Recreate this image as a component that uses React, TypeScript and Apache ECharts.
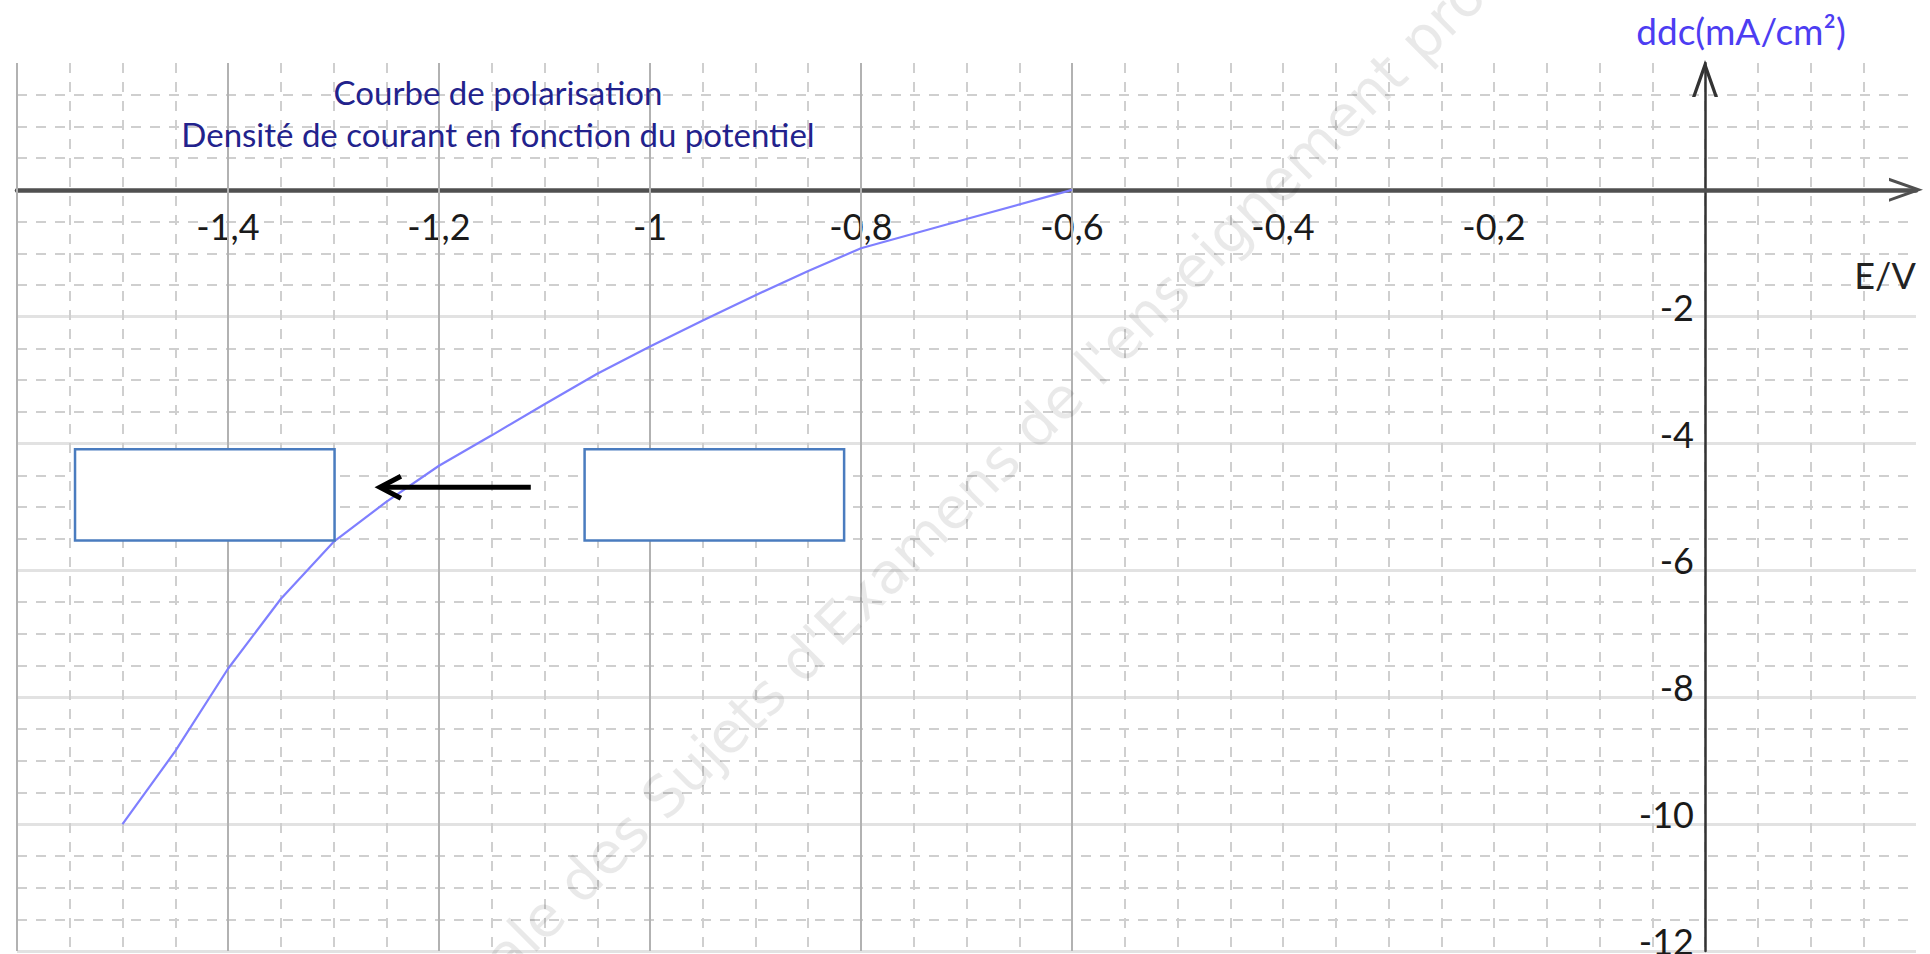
import React, { useEffect, useRef } from 'react';
import * as echarts from 'echarts';

// ---- data ----
const potentials = [-1.5, -1.45, -1.4, -1.35, -1.3, -1.25, -1.2, -1.15, -1.1, -1.05, -1.0, -0.95, -0.9, -0.85, -0.8, -0.7, -0.6];
const currentDensity = [-10, -8.85, -7.55, -6.45, -5.55, -4.92, -4.35, -3.87, -3.38, -2.9, -2.47, -2.06, -1.66, -1.28, -0.92, -0.46, 0];

const xTickValues = [-1.4, -1.2, -1, -0.8, -0.6, -0.4, -0.2];
const xTickLabels = ['-1,4', '-1,2', '-1', '-0,8', '-0,6', '-0,4', '-0,2'];
const yTickValues = [-2, -4, -6, -8, -10, -12];
const yTickLabels = ['-2', '-4', '-6', '-8', '-10', '-12'];
const solidGridX = [-1.6, -1.4, -1.2, -1.0, -0.8, -0.6];

const titleLines = ['Courbe de polarisation', 'Densité de courant en fonction du potentiel'];
const yAxisName = 'ddc(mA/cm²)';
const xAxisName = 'E/V';
const watermarkText = "Base Nationale des Sujets d'Examens de l'enseignement professionnel";

// annotation frames (data units): [xLeft, yTop, xRight, yBottom]
const annotationBoxes = [
  [-1.545, -4.09, -1.299, -5.53],
  [-1.062, -4.09, -0.816, -5.53],
];
const annotationArrow = { from: [-1.113, -4.69], to: [-1.256, -4.69] };

// axis ranges
const X_MIN = -1.6, X_MAX = 0.2, X_STEP = 0.2;
const Y_MIN = -12, Y_MAX = 2, Y_STEP = 2;

// layout
const W = 1930, H = 954;
const GRID = { left: 17, right: 14, top: 63, bottom: 3 };
const GRID_W = W - GRID.left - GRID.right;
const GRID_H = H - GRID.top - GRID.bottom;

const chevron = 'path://M12,0 L24,34 L20.8,34 L12,9.07 L3.2,34 L0,34 Z';
const FONT = 'Lato';

function findIdx(list: number[], v: number) {
  return list.findIndex((t) => Math.abs(t - v) < 1e-6);
}

export default function App() {
  const ref = useRef<HTMLDivElement>(null);

  useEffect(() => {
    if (!ref.current) return;
    const chart = echarts.init(ref.current, undefined, { renderer: 'svg' });

    const dashed = { type: [10, 9] as any, color: '#cfcfcf', width: 2 };
    // put the axis lines through zero (labels follow the line)
    const xAxisOffset = -(GRID_H * (0 - Y_MIN)) / (Y_MAX - Y_MIN);
    const yAxisOffset = -(GRID_W * (0 - X_MIN)) / (X_MAX - X_MIN);

    const option: any = {
      animation: false,
      backgroundColor: '#ffffff',
      title: {
        text: titleLines.join('\n'),
        left: 498,
        top: 71,
        padding: 0,
        textAlign: 'center',
        textStyle: {
          fontFamily: FONT,
          fontSize: 33,
          fontWeight: 'normal',
          color: '#22228c',
          lineHeight: 42,
        },
      },
      grid: { ...GRID, containLabel: false, outerBoundsMode: 'none' },
      xAxis: {
        type: 'value',
        min: X_MIN,
        max: X_MAX,
        interval: X_STEP,
        position: 'bottom',
        offset: xAxisOffset,
        axisLine: {
          onZero: false,
          symbol: ['none', chevron],
          symbolSize: [24, 34],
          symbolOffset: [0, -10],
          lineStyle: { color: '#505050', width: 4.5 },
        },
        axisTick: { show: false },
        minorTick: { show: false, splitNumber: 4 },
        axisLabel: {
          interval: 0,
          margin: 18,
          fontFamily: FONT,
          fontSize: 36,
          color: '#1a1a1a',
          formatter: (v: number) => {
            const i = findIdx(xTickValues, v);
            return i >= 0 ? xTickLabels[i] : '';
          },
        },
        splitLine: { show: true, showMaxLine: false, lineStyle: dashed },
        minorSplitLine: { show: true, lineStyle: dashed },
      },
      yAxis: {
        type: 'value',
        min: Y_MIN,
        max: Y_MAX,
        interval: Y_STEP,
        position: 'left',
        offset: yAxisOffset,
        name: yAxisName,
        nameLocation: 'end',
        nameGap: 14,
        nameTextStyle: {
          fontFamily: FONT,
          fontSize: 37,
          color: '#4d3df2',
          padding: [0, 0, 0, 72],
        },
        axisLine: {
          onZero: false,
          symbol: ['none', chevron],
          symbolSize: [26, 37],
          symbolOffset: [0, -15.5],
          lineStyle: { color: '#333333', width: 2.5 },
        },
        axisTick: { show: false },
        minorTick: { show: false, splitNumber: 4 },
        axisLabel: {
          showMinLabel: true,
          showMaxLabel: false,
          margin: 11,
          fontFamily: FONT,
          fontSize: 36,
          color: '#1a1a1a',
          verticalAlign: 'bottom',
          lineHeight: 20,
          formatter: (v: number) => {
            const i = findIdx(yTickValues, v);
            return i >= 0 ? yTickLabels[i] : '';
          },
        },
        splitLine: {
          show: true,
          showMaxLine: false,
          lineStyle: { type: 'solid', color: '#e2e2e2', width: 3 },
        },
        minorSplitLine: { show: true, lineStyle: dashed },
      },
      series: [
        {
          name: 'grid-major',
          type: 'line',
          data: [],
          z: 1,
          silent: true,
          markLine: {
            silent: true,
            symbol: ['none', 'none'],
            label: { show: false },
            lineStyle: { type: 'solid', color: '#b2b2b2', width: 2 },
            data: solidGridX.map((x) => ({ xAxis: x })),
          },
        },
        {
          name: 'ddc',
          type: 'line',
          z: 5,
          showSymbol: false,
          smooth: false,
          lineStyle: { color: '#7f7fff', width: 2.2 },
          data: potentials.map((x, i) => [x, currentDensity[i]]),
        },
      ],
    };

    chart.setOption(option);

    const px = (p: number[]) => chart.convertToPixel({ gridIndex: 0 }, p) as number[];
    const graphics: any[] = [];
    annotationBoxes.forEach((b) => {
      const a = px([b[0], b[1]]);
      const c = px([b[2], b[3]]);
      graphics.push({
        type: 'rect',
        z: 100,
        shape: { x: a[0], y: a[1], width: c[0] - a[0], height: c[1] - a[1] },
        style: { fill: '#ffffff', stroke: '#4a7cbf', lineWidth: 2.5 },
      });
    });
    const f = px(annotationArrow.from);
    const t = px(annotationArrow.to);
    graphics.push({
      type: 'line',
      z: 101,
      shape: { x1: f[0], y1: f[1], x2: t[0] + 2, y2: t[1] },
      style: { stroke: '#000000', lineWidth: 5 },
    });
    graphics.push({
      type: 'polyline',
      z: 101,
      shape: { points: [[t[0] + 21, t[1] - 11], [t[0], t[1]], [t[0] + 21, t[1] + 11]] },
      style: { stroke: '#000000', lineWidth: 5, fill: 'none', lineJoin: 'miter' },
    });
    // x axis name, below the arrow end
    const xEnd = px([X_MAX, 0]);
    graphics.push({
      type: 'text',
      z: 50,
      x: xEnd[0] - 31,
      y: xEnd[1] + 85,
      style: {
        text: xAxisName,
        fontFamily: FONT,
        fontSize: 36,
        fill: '#222222',
        align: 'center',
        verticalAlign: 'middle',
      },
    });
    graphics.push({
      type: 'text',
      z: 102,
      x: 965,
      y: 495,
      rotation: Math.PI / 4,
      silent: true,
      style: {
        text: watermarkText,
        fontFamily: 'DejaVu Sans',
        fontSize: 57,
        fill: 'rgba(0,0,0,0.085)',
        align: 'center',
        verticalAlign: 'middle',
      },
    });
    chart.setOption({ graphic: graphics });

    return () => chart.dispose();
  }, []);

  return (
    <div
      ref={ref}
      style={{ position: 'absolute', left: 0, top: 0, width: W, height: H }}
    />
  );
}
